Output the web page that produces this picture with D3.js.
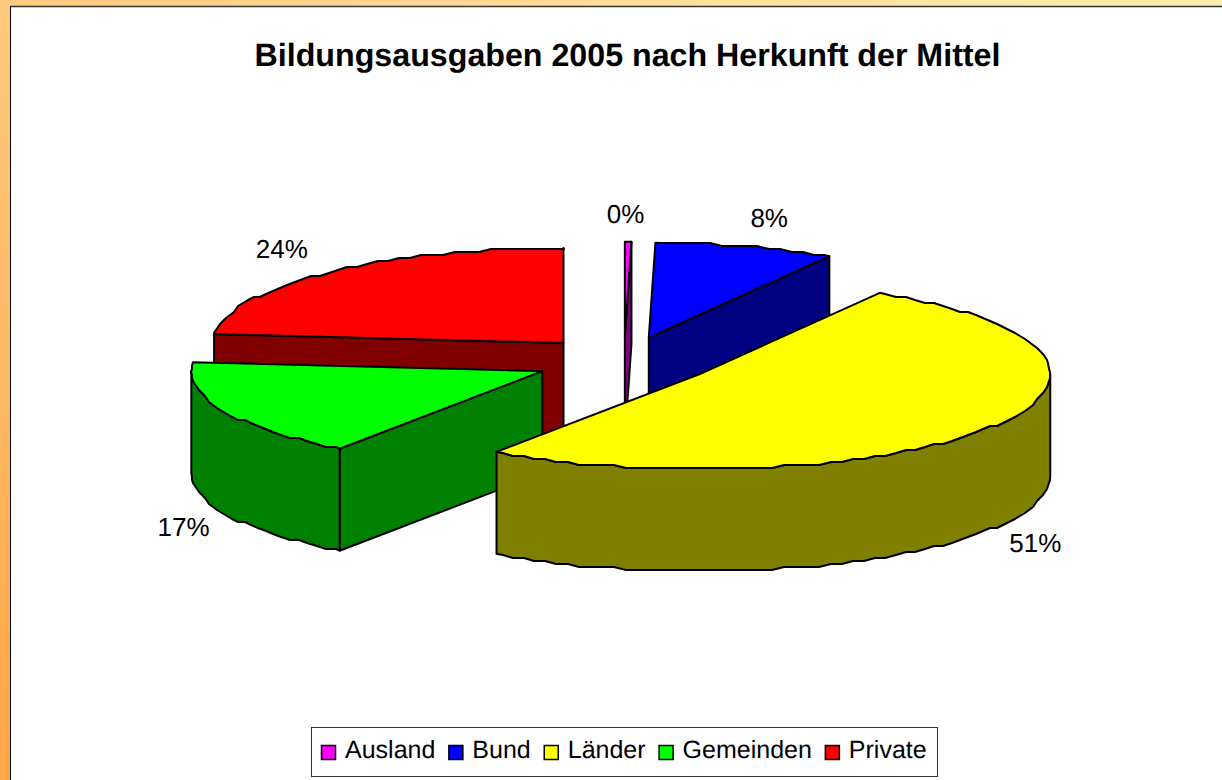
<!DOCTYPE html>
<html>
<head>
<meta charset="utf-8">
<title>Bildungsausgaben 2005</title>
<script src="https://cdnjs.cloudflare.com/ajax/libs/d3/7.8.5/d3.min.js"></script>
<style>
  html, body { margin: 0; padding: 0; background: #fff; }
  svg { display: block; font-family: "Liberation Sans", Arial, sans-serif; text-rendering: geometricPrecision; }
</style>
</head>
<body>
<div id="chart"></div>
<script>
// Values
const categories = ["Ausland", "Bund", "Länder", "Gemeinden", "Private"];
const shares = [0.3, 8.3, 51.2, 16.7, 23.5];
const shareLabels = ["0%", "8%", "51%", "17%", "24%"];
const topColors = ["#ff00ff", "#0000ff", "#ffff00", "#00ff00", "#ff0000"];
const sideColors = ["#800080", "#000080", "#808000", "#008000", "#800000"];

const W = 1222, H = 780;
const cx = 624, cy = 361;      // pie centre before the slices are pulled out
const rx = 351, ry = 95;       // tilted ellipse
const depth = 102;
const explode = 0.256;         // fraction of the radius
const arcStep = Math.PI / 90;  // the original outline is a stepped polyline
const snap = 3;
// small hand corrections for the percent labels
const labelNudge = [[-3, 1], [9, -1], [-2, -1], [8, 2], [-10, -3]];

const svg = d3.select("#chart").append("svg")
  .attr("width", W).attr("height", H).attr("viewBox", `0 0 ${W} ${H}`);

// Page background
const grad = svg.append("defs").append("linearGradient")
  .attr("id", "page").attr("x1", 1).attr("y1", 0).attr("x2", 0).attr("y2", 1);
grad.append("stop").attr("offset", 0).attr("stop-color", "#ffefb0");
grad.append("stop").attr("offset", 0.5).attr("stop-color", "#ffc97f");
grad.append("stop").attr("offset", 1).attr("stop-color", "#ffa646");

svg.append("rect").attr("width", W).attr("height", H).attr("fill", "url(#page)");
svg.append("rect").attr("x", 10).attr("y", 6).attr("width", W - 10).attr("height", H - 6).attr("fill", "#fff");
svg.append("line").attr("x1", 10).attr("x2", W).attr("y1", 6.5).attr("y2", 6.5)
  .attr("stroke", "#333").attr("stroke-width", 1.5);
svg.append("line").attr("x1", 10.5).attr("x2", 10.5).attr("y1", 6).attr("y2", H)
  .attr("stroke", "#000");

svg.append("text")
  .attr("x", 627.5).attr("y", 66)
  .attr("text-anchor", "middle")
  .attr("font-size", 32.2).attr("font-weight", 700).attr("fill", "#000")
  .text("Bildungsausgaben 2005 nach Herkunft der Mittel");

// Slices
const pie = d3.pie().sort(null).startAngle(0).endAngle(2 * Math.PI);
const slices = pie(shares).map((a, i) => {
  const mid = (a.startAngle + a.endAngle) / 2;
  return {
    i, a0: a.startAngle, a1: a.endAngle, mid,
    ox: cx + explode * rx * Math.sin(mid),
    oy: cy - explode * ry * Math.cos(mid),
  };
});

const rim = (s, t) => [s.ox + rx * Math.sin(t), s.oy - ry * Math.cos(t)];

// Sampled on a fixed angle grid so the wall and the top share the same steps
function arcPoints(s, a0, a1) {
  const pts = [rim(s, a0)];
  d3.range(Math.ceil(a0 / arcStep + 1e-6), Math.ceil(a1 / arcStep)).forEach(k => {
    const p = rim(s, k * arcStep);
    pts.push([Math.round(p[0]), Math.round(p[1] / snap) * snap]);
  });
  pts.push(rim(s, a1));
  return pts;
}

const line = d3.line().curve(d3.curveLinear);
const down = p => [p[0], p[1] + depth];
const faceAttrs = sel => sel
  .attr("stroke", "#000").attr("stroke-width", 2).attr("stroke-linejoin", "round");

// Back to front, the slice pushed furthest down the screen goes last
slices.slice().sort((a, b) => a.oy - b.oy).forEach(s => {
  const g = svg.append("g");
  const o = [s.ox, s.oy];
  const side = sideColors[s.i];

  // Flat cut faces that turn towards the viewer
  [[s.a0, Math.sin(s.a0) < -1e-6], [s.a1, Math.sin(s.a1) > 1e-6]].forEach(([t, visible]) => {
    if (!visible) return;
    const e = rim(s, t);
    g.append("path").attr("d", line([o, e, down(e), down(o)]) + "Z").attr("fill", side).call(faceAttrs);
  });

  // Outer wall, only the front half of the rim shows
  const w0 = Math.max(s.a0, Math.PI / 2), w1 = Math.min(s.a1, 3 * Math.PI / 2);
  if (w1 > w0) {
    const pts = arcPoints(s, w0, w1);
    g.append("path").attr("d", line(pts.concat(pts.map(down).reverse())) + "Z")
      .attr("fill", side).call(faceAttrs);
  }

  // Top
  g.append("path").attr("d", line([o].concat(arcPoints(s, s.a0, s.a1))) + "Z")
    .attr("fill", topColors[s.i]).call(faceAttrs);
});

// Percent labels
slices.forEach(s => {
  const below = Math.cos(s.mid) < 0 ? depth : 0;
  svg.append("text")
    .attr("x", s.ox + 1.15 * rx * Math.sin(s.mid) + labelNudge[s.i][0])
    .attr("y", s.oy - 1.3 * ry * Math.cos(s.mid) + below + 9 + labelNudge[s.i][1])
    .attr("text-anchor", "middle")
    .attr("font-size", 26).attr("fill", "#000")
    .text(shareLabels[s.i]);
});

// Legend
const legend = svg.append("g");
legend.append("rect").attr("x", 311.5).attr("y", 727.5).attr("width", 626).attr("height", 49)
  .attr("fill", "#fff").attr("stroke", "#333");
let lx = 321;
categories.forEach((c, i) => {
  legend.append("rect").attr("x", lx + 0.5).attr("y", 745.5).attr("width", 14).attr("height", 14)
    .attr("fill", topColors[i]).attr("stroke", "#000").attr("stroke-width", 1.5);
  const t = legend.append("text").attr("x", lx + 24).attr("y", 758)
    .attr("font-size", 25).attr("fill", "#000").text(c);
  lx += 24 + t.node().getComputedTextLength() + 13;
});
</script>
</body>
</html>
